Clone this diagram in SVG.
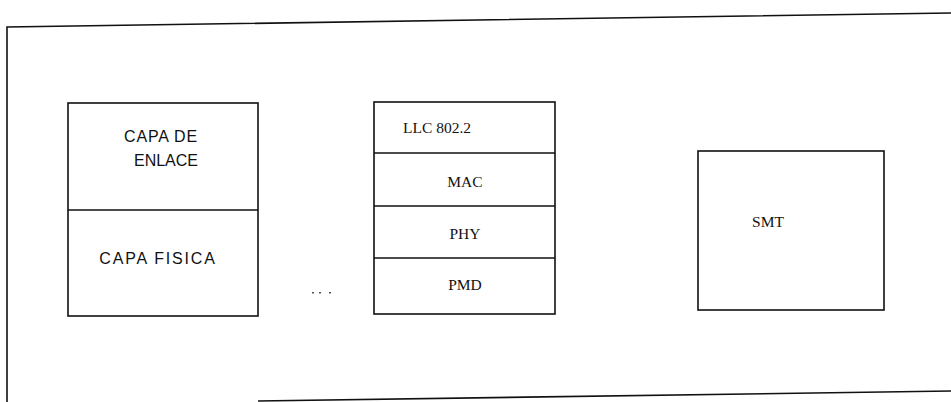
<svg xmlns="http://www.w3.org/2000/svg" width="951" height="402" viewBox="0 0 951 402">
<style>
.ln{stroke:#111;stroke-width:1.6;fill:none}
.bx{stroke:#111;stroke-width:1.6;fill:#fff}
.sans{font-family:"Liberation Sans",Arial,sans-serif;font-size:16px;fill:#111;text-anchor:middle}
.serif{font-family:"Liberation Serif","Times New Roman",serif;font-size:15.5px;fill:#111;text-anchor:middle}
</style>
<rect width="951" height="402" fill="#fff"/>
<g id="frame">
<path class="ln" d="M7,402 L7,27 L951,13"/>
<path class="ln" d="M258,401 L951,391"/>
</g>
<g id="osi">
<rect class="bx" x="68" y="103" width="190" height="213"/>
<line class="ln" x1="68" y1="210" x2="258" y2="210"/>
<text class="sans" x="161" y="142" letter-spacing="0.8">CAPA DE</text>
<text class="sans" x="166" y="166">ENLACE</text>
<text class="sans" x="158" y="264" letter-spacing="1.8">CAPA FISICA</text>
</g>
<g id="fddi">
<rect class="bx" x="374" y="102" width="181" height="212"/>
<line class="ln" x1="374" y1="153" x2="555" y2="153"/>
<line class="ln" x1="374" y1="206" x2="555" y2="206"/>
<line class="ln" x1="374" y1="258" x2="555" y2="258"/>
<text class="serif" x="437" y="133">LLC 802.2</text>
<text class="serif" x="465" y="187">MAC</text>
<text class="serif" x="465" y="239">PHY</text>
<text class="serif" x="465" y="290">PMD</text>
</g>
<g id="smt">
<rect class="bx" x="698" y="151" width="186" height="159"/>
<text class="serif" x="768" y="227">SMT</text>
</g>
<g id="connectors">
<rect x="312" y="292" width="2" height="1.5" fill="#555"/>
<rect x="319" y="292" width="2" height="1.5" fill="#555"/>
<rect x="329" y="292" width="2" height="1.5" fill="#555"/>
</g>
</svg>
